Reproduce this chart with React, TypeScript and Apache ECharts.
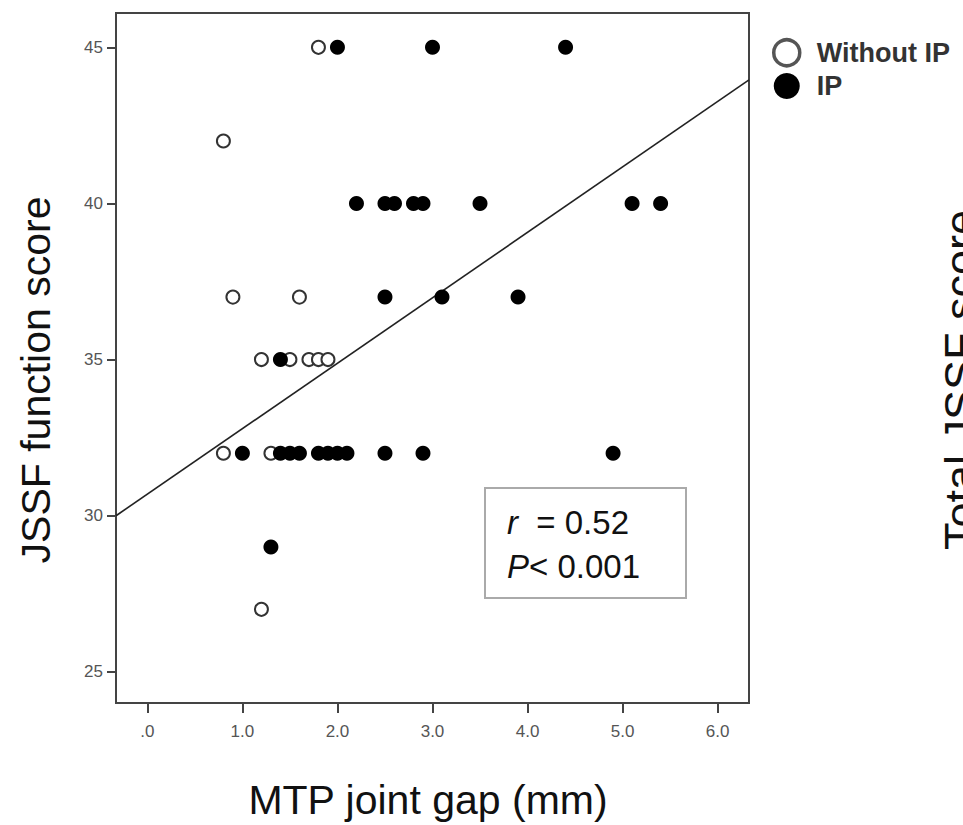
import React, { useEffect, useRef } from "react";
import * as echarts from "echarts";

// ---- data ----
const withoutIPX = [1.8, 0.8, 0.9, 1.6, 1.2, 1.5, 1.7, 1.8, 1.9, 0.8, 1.3, 1.2];
const withoutIPY = [45, 42, 37, 37, 35, 35, 35, 35, 35, 32, 32, 27];

const ipX = [2.0, 3.0, 4.4, 2.2, 2.5, 2.6, 2.8, 2.9, 3.5, 5.1, 5.4, 2.5, 3.1, 3.9, 1.4, 1.0, 1.4, 1.5, 1.6, 1.8, 1.9, 2.0, 2.1, 2.5, 2.9, 4.9, 1.3];
const ipY = [45, 45, 45, 40, 40, 40, 40, 40, 40, 40, 40, 37, 37, 37, 35, 32, 32, 32, 32, 32, 32, 32, 32, 32, 32, 32, 29];

const xTicks = [0, 1, 2, 3, 4, 5, 6];
const yTicks = [25, 30, 35, 40, 45];
const xRange = [-0.33, 6.33];
const yRange = [24.0, 46.1];

// fitted line: y = intercept + slope * x
const fitIntercept = 30.69;
const fitSlope = 2.096;

const seriesNames = ["Without IP", "IP"];
const statLines = ["{i|r}  = 0.52", "{i|P}< 0.001"];
const xTitle = "MTP joint gap (mm)";
const yTitle = "JSSF function score";
const sideTitle = "Total JSSF score";

const FONT = "'Liberation Sans', Arial, Helvetica, sans-serif";

export default function App() {
  const ref = useRef<HTMLDivElement>(null);

  useEffect(() => {
    if (!ref.current) return;
    const chart = echarts.init(ref.current, undefined, { renderer: "svg" });

    const withoutData = withoutIPX.map((x, i) => [x, withoutIPY[i]]);
    const ipData = ipX.map((x, i) => [x, ipY[i]]);
    const fitData = xRange.map((x) => [x, fitIntercept + fitSlope * x]);

    chart.setOption({
      animation: false,
      backgroundColor: "#fff",
      grid: {
        left: 116,
        top: 13,
        width: 633,
        height: 690,
        show: true,
        borderColor: "#444",
        borderWidth: 2,
        backgroundColor: "transparent",
      },
      legend: {
        orient: "vertical",
        left: 767,
        top: 33,
        itemWidth: 26,
        itemHeight: 26,
        itemGap: 5,
        icon: "circle",
        selectedMode: false,
        data: [
          { name: seriesNames[0], itemStyle: { borderWidth: 3.5, borderColor: "#555", color: "#fff" } },
          { name: seriesNames[1] },
        ],
        textStyle: {
          fontSize: 27,
          fontWeight: "bold",
          color: "#333",
          fontFamily: FONT,
          padding: [0, 0, 0, 12],
        },
      },
      xAxis: {
        type: "value",
        min: xRange[0],
        max: xRange[1],
        splitLine: { show: false },
        axisLine: { show: true, onZero: false, lineStyle: { color: "#444", width: 2 } },
        axisTick: {
          show: true,
          customValues: xTicks,
          length: 10,
          lineStyle: { color: "#444", width: 2 },
        },
        axisLabel: {
          customValues: xTicks,
          margin: 20,
          fontSize: 17,
          color: "#555",
          fontFamily: FONT,
          formatter: (v: number) => (v === 0 ? ".0" : v.toFixed(1)),
        },
      },
      yAxis: {
        type: "value",
        min: yRange[0],
        max: yRange[1],
        splitLine: { show: false },
        axisLine: { show: true, onZero: false, lineStyle: { color: "#444", width: 2 } },
        axisTick: {
          show: true,
          customValues: yTicks,
          length: 9,
          lineStyle: { color: "#444", width: 2 },
        },
        axisLabel: {
          customValues: yTicks,
          margin: 13,
          fontSize: 17,
          color: "#555",
          fontFamily: FONT,
        },
      },
      series: [
        {
          name: seriesNames[0],
          type: "scatter",
          data: withoutData,
          symbol: "circle",
          symbolSize: 13,
          itemStyle: { color: "#fff", borderColor: "#333", borderWidth: 2, opacity: 1 },
          z: 3,
        },
        {
          name: seriesNames[1],
          type: "scatter",
          data: ipData,
          symbol: "circle",
          symbolSize: 15,
          itemStyle: { color: "#000", opacity: 1 },
          z: 4,
        },
        {
          name: "fit",
          type: "line",
          data: fitData,
          symbol: "none",
          silent: true,
          lineStyle: { color: "#222", width: 1.6 },
          z: 2,
        },
      ],
      graphic: [
        {
          type: "rect",
          shape: { x: 485, y: 488, width: 201, height: 110 },
          style: { fill: "#fff", stroke: "#aaa", lineWidth: 2 },
          z: 10,
        },
        {
          type: "text",
          x: 507,
          y: 522,
          z: 11,
          style: {
            text: statLines[0],
            fontSize: 33,
            fontFamily: FONT,
            fill: "#111",
            verticalAlign: "middle",
            rich: { i: { fontStyle: "italic", fontSize: 33, fontFamily: FONT, fill: "#111" } },
          },
        },
        {
          type: "text",
          x: 507,
          y: 566,
          z: 11,
          style: {
            text: statLines[1],
            fontSize: 33,
            fontFamily: FONT,
            fill: "#111",
            verticalAlign: "middle",
            rich: { i: { fontStyle: "italic", fontSize: 33, fontFamily: FONT, fill: "#111" } },
          },
        },
        {
          type: "text",
          x: 428,
          y: 800,
          style: {
            text: xTitle,
            fontSize: 41,
            fontFamily: FONT,
            fill: "#111",
            align: "center",
            verticalAlign: "middle",
          },
        },
        {
          type: "text",
          x: 36,
          y: 380,
          rotation: Math.PI / 2,
          style: {
            text: yTitle,
            fontSize: 41,
            fontFamily: FONT,
            fill: "#111",
            align: "center",
            verticalAlign: "middle",
          },
        },
        {
          type: "text",
          x: 938,
          y: 380,
          rotation: Math.PI / 2,
          style: {
            text: sideTitle,
            fontSize: 45,
            fontFamily: FONT,
            fill: "#111",
            align: "center",
            verticalAlign: "top",
          },
        },
      ],
    });

    return () => chart.dispose();
  }, []);

  return (
    <div
      ref={ref}
      style={{ position: "absolute", left: 0, top: 0, width: 963, height: 825 }}
    />
  );
}
